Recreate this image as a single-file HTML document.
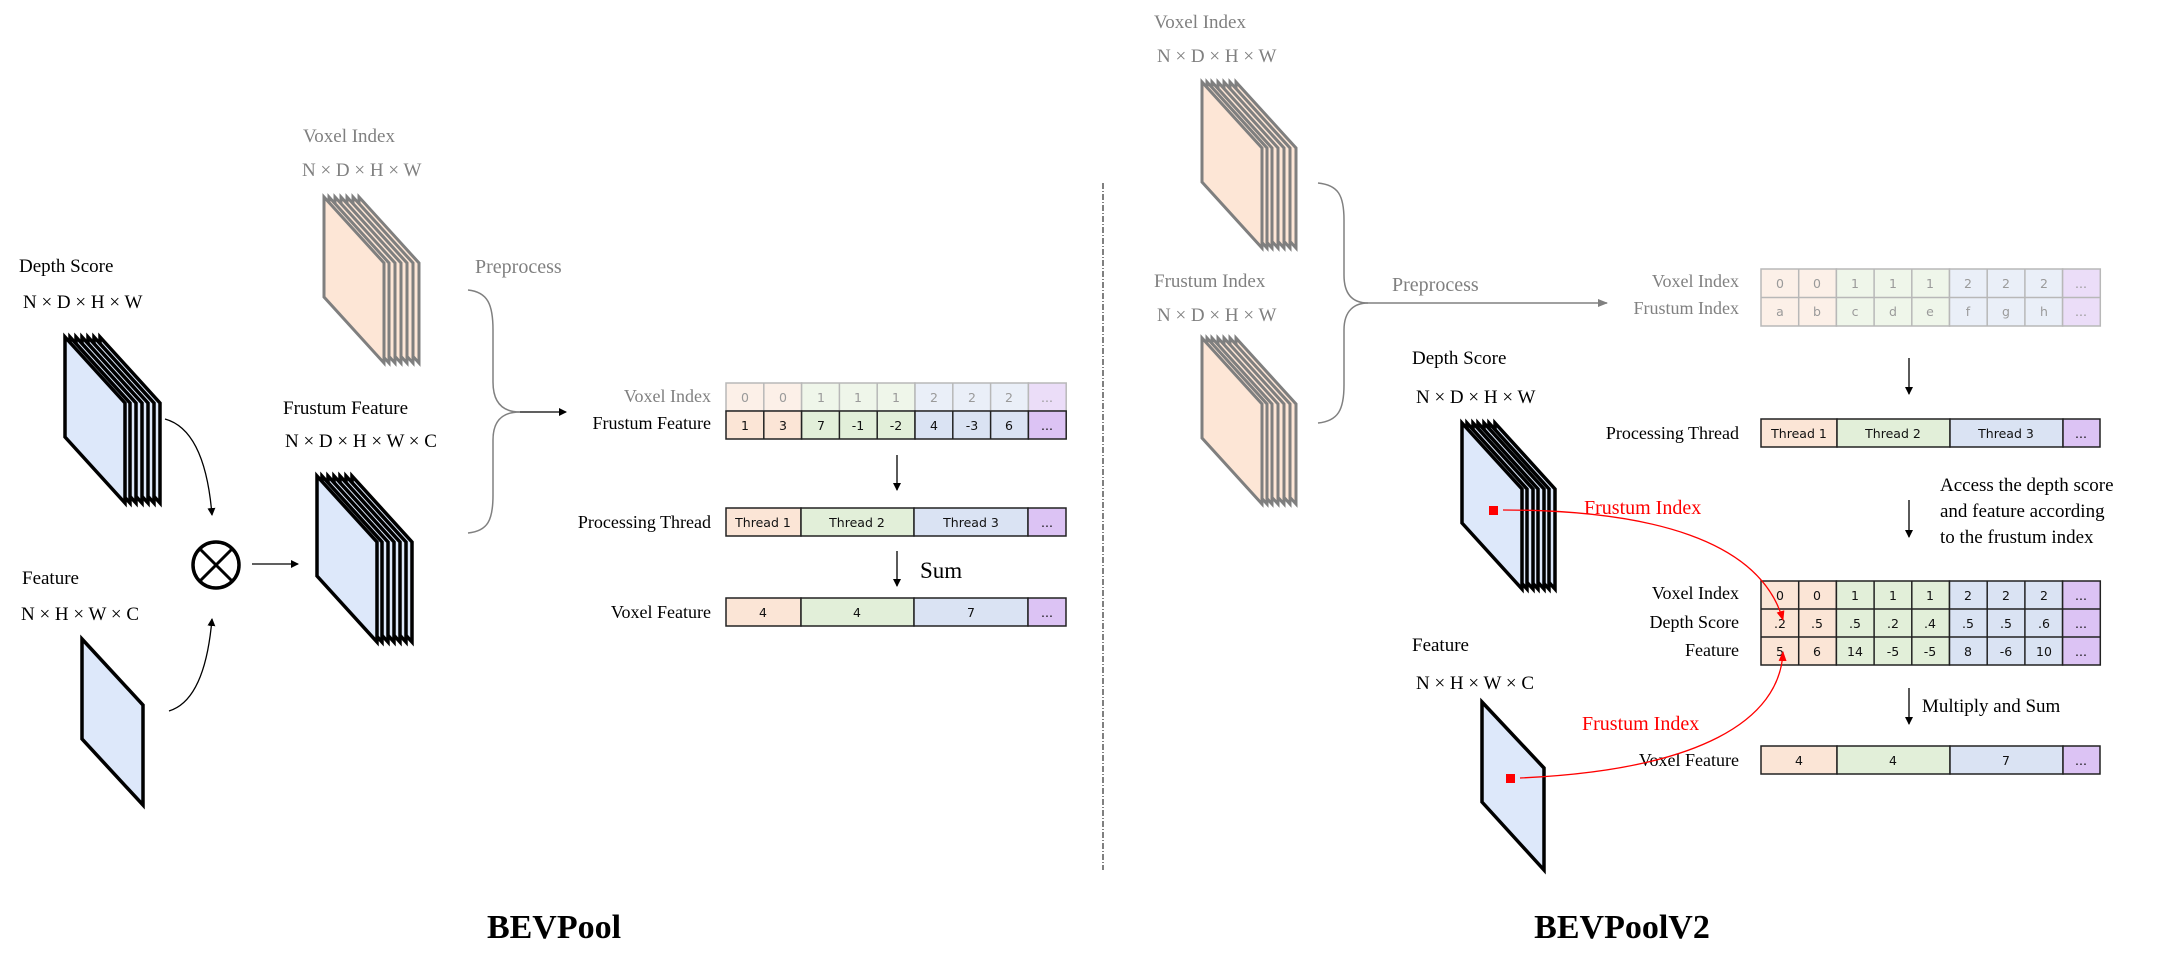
<!DOCTYPE html>
<html><head><meta charset="utf-8"><style>
html,body{margin:0;padding:0;background:#fff;}
svg{display:block;}
.s{font-family:"Liberation Serif",serif;}
.c{font-family:"DejaVu Sans","Liberation Sans",sans-serif;font-size:12.5px;text-anchor:middle;}
</style></head><body>
<svg width="2161" height="963" viewBox="0 0 2161 963" xmlns="http://www.w3.org/2000/svg">
<defs>
<polygon id="P" points="0,0 60,66 60,166 0,100"/>
<marker id="ah" markerWidth="8" markerHeight="8" refX="7" refY="4" orient="auto" markerUnits="userSpaceOnUse"><path d="M0,0 L8,4 L0,8z" fill="#000"/></marker>
<marker id="ahg" markerWidth="10" markerHeight="8" refX="9" refY="4" orient="auto" markerUnits="userSpaceOnUse"><path d="M0,0 L10,4 L0,8z" fill="#808080"/></marker>
<marker id="ahr" markerWidth="10" markerHeight="8" refX="9" refY="4" orient="auto" markerUnits="userSpaceOnUse"><path d="M0,0 L10,4 L0,8z" fill="#f00"/></marker>
</defs>

<!-- ================= LEFT: BEVPool ================= -->
<g class="s" font-family="Liberation Serif, serif" font-size="19">
<text x="303" y="142" fill="#808080">Voxel Index</text>
<text x="302" y="176" fill="#808080">N × D × H × W</text>
<text x="19" y="272">Depth Score</text>
<text x="23" y="308">N × D × H × W</text>
<text x="22" y="584">Feature</text>
<text x="21" y="620">N × H × W × C</text>
<text x="283" y="414">Frustum Feature</text>
<text x="285" y="447">N × D × H × W × C</text>
<text x="475" y="273" fill="#808080" font-size="20">Preprocess</text>
</g>

<g fill="#fde6d6" stroke="#7f7f7f" stroke-width="3" stroke-linejoin="miter">
<use href="#P" x="359" y="197"/><use href="#P" x="353" y="197"/><use href="#P" x="347" y="197"/><use href="#P" x="341" y="197"/><use href="#P" x="335" y="197"/><use href="#P" x="329" y="197"/><use href="#P" x="324" y="197"/>
</g>
<g fill="#dde8fa" stroke="#000" stroke-width="3.5">
<use href="#P" x="100" y="337"/><use href="#P" x="94" y="337"/><use href="#P" x="88" y="337"/><use href="#P" x="82" y="337"/><use href="#P" x="76" y="337"/><use href="#P" x="70" y="337"/><use href="#P" x="65" y="337"/>
</g>
<polygon points="82,639 143,705 143,805 82,739" fill="#dde8fa" stroke="#000" stroke-width="3.5"/>
<g fill="#dde8fa" stroke="#000" stroke-width="3.5">
<use href="#P" x="352" y="476"/><use href="#P" x="346" y="476"/><use href="#P" x="340" y="476"/><use href="#P" x="334" y="476"/><use href="#P" x="328" y="476"/><use href="#P" x="322" y="476"/><use href="#P" x="317" y="476"/>
</g>
<circle cx="216" cy="565" r="23" fill="#fff" stroke="#000" stroke-width="3.5"/>
<line x1="200" y1="549" x2="232" y2="581" stroke="#000" stroke-width="3"/>
<line x1="232" y1="549" x2="200" y2="581" stroke="#000" stroke-width="3"/>
<g fill="none" stroke="#000" stroke-width="1.3">
<path d="M165,419 Q205,430 212,515" marker-end="url(#ah)"/>
<path d="M169,711 Q205,700 212,619" marker-end="url(#ah)"/>
<line x1="252" y1="564" x2="298" y2="564" marker-end="url(#ah)"/>
<line x1="897" y1="455" x2="897" y2="490" marker-end="url(#ah)"/>
<line x1="897" y1="551" x2="897" y2="586" marker-end="url(#ah)"/>
</g>
<g fill="none" stroke="#808080" stroke-width="1.5">
<path d="M468,290 C488,292 493,305 493,330 L493,382 C493,405 505,412 520,412"/>
<path d="M468,533 C488,531 493,520 493,495 L493,440 C493,418 505,412 520,412"/>
<line x1="520" y1="412" x2="566" y2="412" stroke="#000" stroke-width="1.3" marker-end="url(#ah)"/>
</g>

<g class="s" font-family="Liberation Serif, serif" font-size="18" text-anchor="end">
<text x="711" y="402" fill="#808080">Voxel Index</text>
<text x="711" y="429">Frustum Feature</text>
<text x="711" y="528">Processing Thread</text>
<text x="711" y="618">Voxel Feature</text>
</g>
<g stroke="#7f7f7f" stroke-width="1.5" opacity="0.55">
<rect x="726" y="383" width="75.6" height="28" fill="#fbe5d6"/>
<rect x="801.6" y="383" width="113.4" height="28" fill="#e2efd9"/>
<rect x="915" y="383" width="113.4" height="28" fill="#dae3f3"/>
<rect x="1028.4" y="383" width="37.8" height="28" fill="#dcc3f4"/>
<path d="M763.8,383v28M839.4,383v28M877.2,383v28M952.8,383v28M990.6,383v28"/>
</g>
<g class="c" fill="#9a9a9a">
<text x="745" y="402">0</text><text x="783" y="402">0</text><text x="821" y="402">1</text><text x="858" y="402">1</text><text x="896" y="402">1</text><text x="934" y="402">2</text><text x="972" y="402">2</text><text x="1009" y="402">2</text><text x="1047" y="402">...</text>
</g>
<g stroke="#222" stroke-width="1.5">
<rect x="726" y="411" width="75.6" height="28" fill="#fbe5d6"/>
<rect x="801.6" y="411" width="113.4" height="28" fill="#e2efd9"/>
<rect x="915" y="411" width="113.4" height="28" fill="#dae3f3"/>
<rect x="1028.4" y="411" width="37.8" height="28" fill="#dcc3f4"/>
<path d="M763.8,411v28M839.4,411v28M877.2,411v28M952.8,411v28M990.6,411v28" fill="none"/>
<rect x="726" y="508" width="75" height="28" fill="#fbe5d6"/>
<rect x="801" y="508" width="113" height="28" fill="#e2efd9"/>
<rect x="914" y="508" width="114" height="28" fill="#dae3f3"/>
<rect x="1028" y="508" width="38" height="28" fill="#dcc3f4"/>
<rect x="726" y="598" width="75" height="28" fill="#fbe5d6"/>
<rect x="801" y="598" width="113" height="28" fill="#e2efd9"/>
<rect x="914" y="598" width="114" height="28" fill="#dae3f3"/>
<rect x="1028" y="598" width="38" height="28" fill="#dcc3f4"/>
</g>
<g class="c" fill="#111">
<text x="745" y="430">1</text><text x="783" y="430">3</text><text x="821" y="430">7</text><text x="858" y="430">-1</text><text x="896" y="430">-2</text><text x="934" y="430">4</text><text x="972" y="430">-3</text><text x="1009" y="430">6</text><text x="1047" y="430">...</text>
<text x="763" y="527">Thread 1</text><text x="857" y="527">Thread 2</text><text x="971" y="527">Thread 3</text><text x="1047" y="527">...</text>
<text x="763" y="617">4</text><text x="857" y="617">4</text><text x="971" y="617">7</text><text x="1047" y="617">...</text>
</g>
<text x="920" y="578" class="s" font-family="Liberation Serif, serif" font-size="23">Sum</text>

<line x1="1103" y1="183" x2="1103" y2="870" stroke="#000" stroke-width="1" stroke-dasharray="6,2,1,2"/>

<text x="554" y="938" class="s" font-family="Liberation Serif, serif" font-size="34" font-weight="bold" text-anchor="middle">BEVPool</text>
<text x="1622" y="938" class="s" font-family="Liberation Serif, serif" font-size="34" font-weight="bold" text-anchor="middle">BEVPoolV2</text>

<!-- ================= RIGHT: BEVPoolV2 ================= -->
<g class="s" font-family="Liberation Serif, serif" font-size="19">
<text x="1154" y="28" fill="#808080">Voxel Index</text>
<text x="1157" y="62" fill="#808080">N × D × H × W</text>
<text x="1154" y="287" fill="#808080">Frustum Index</text>
<text x="1157" y="321" fill="#808080">N × D × H × W</text>
<text x="1392" y="291" fill="#808080" font-size="20">Preprocess</text>
<text x="1412" y="364">Depth Score</text>
<text x="1416" y="403">N × D × H × W</text>
<text x="1412" y="651">Feature</text>
<text x="1416" y="689">N × H × W × C</text>
<text x="1584" y="514" fill="#f00" font-size="20">Frustum Index</text>
<text x="1582" y="730" fill="#f00" font-size="20">Frustum Index</text>
<text x="1940" y="491">Access the depth score</text>
<text x="1940" y="517">and feature according</text>
<text x="1940" y="543">to the frustum index</text>
<text x="1922" y="712">Multiply and Sum</text>
</g>
<g fill="#fde6d6" stroke="#7f7f7f" stroke-width="3">
<use href="#P" x="1236" y="82"/><use href="#P" x="1230" y="82"/><use href="#P" x="1224" y="82"/><use href="#P" x="1218" y="82"/><use href="#P" x="1212" y="82"/><use href="#P" x="1207" y="82"/><use href="#P" x="1202" y="82"/>
<use href="#P" x="1236" y="338"/><use href="#P" x="1230" y="338"/><use href="#P" x="1224" y="338"/><use href="#P" x="1218" y="338"/><use href="#P" x="1212" y="338"/><use href="#P" x="1207" y="338"/><use href="#P" x="1202" y="338"/>
</g>
<g fill="none" stroke="#808080" stroke-width="1.5">
<path d="M1318,183 C1338,185 1344,195 1344,220 L1344,275 C1344,297 1355,303 1368,303"/>
<path d="M1318,423 C1338,421 1344,410 1344,385 L1344,330 C1344,310 1355,303 1368,303"/>
<line x1="1368" y1="303" x2="1607" y2="303" marker-end="url(#ahg)"/>
</g>
<g fill="#dde8fa" stroke="#000" stroke-width="3.5">
<use href="#P" x="1495" y="423"/><use href="#P" x="1489" y="423"/><use href="#P" x="1484" y="423"/><use href="#P" x="1478" y="423"/><use href="#P" x="1473" y="423"/><use href="#P" x="1467" y="423"/><use href="#P" x="1462" y="423"/>
</g>
<polygon points="1482,702 1544,768 1544,870 1482,802" fill="#dde8fa" stroke="#000" stroke-width="3.5"/>
<g fill="none" stroke="#000" stroke-width="1.3">
<line x1="1909" y1="358" x2="1909" y2="394" marker-end="url(#ah)"/>
<line x1="1909" y1="500" x2="1909" y2="537" marker-end="url(#ah)"/>
<line x1="1909" y1="688" x2="1909" y2="724" marker-end="url(#ah)"/>
</g>

<g class="s" font-family="Liberation Serif, serif" font-size="18" text-anchor="end">
<text x="1739" y="287" fill="#808080">Voxel Index</text>
<text x="1739" y="314" fill="#808080">Frustum Index</text>
<text x="1739" y="439">Processing Thread</text>
<text x="1739" y="599">Voxel Index</text>
<text x="1739" y="628">Depth Score</text>
<text x="1739" y="656">Feature</text>
<text x="1739" y="766">Voxel Feature</text>
</g>
<g stroke="#7f7f7f" stroke-width="1.5" opacity="0.55">
<rect x="1761" y="269" width="75.4" height="57" fill="#fbe5d6"/>
<rect x="1836.4" y="269" width="113.1" height="57" fill="#e2efd9"/>
<rect x="1949.5" y="269" width="113.1" height="57" fill="#dae3f3"/>
<rect x="2062.6" y="269" width="37.7" height="57" fill="#dcc3f4"/>
<path d="M1761,297.5h339.3M1798.7,269v57M1874.1,269v57M1911.8,269v57M1987.2,269v57M2024.9,269v57" fill="none"/>
</g>
<g class="c" fill="#9a9a9a">
<text x="1780" y="288">0</text><text x="1817" y="288">0</text><text x="1855" y="288">1</text><text x="1893" y="288">1</text><text x="1930" y="288">1</text><text x="1968" y="288">2</text><text x="2006" y="288">2</text><text x="2044" y="288">2</text><text x="2081" y="288">...</text>
<text x="1780" y="316">a</text><text x="1817" y="316">b</text><text x="1855" y="316">c</text><text x="1893" y="316">d</text><text x="1930" y="316">e</text><text x="1968" y="316">f</text><text x="2006" y="316">g</text><text x="2044" y="316">h</text><text x="2081" y="316">...</text>
</g>
<g stroke="#222" stroke-width="1.5">
<rect x="1761" y="419" width="76" height="28" fill="#fbe5d6"/>
<rect x="1837" y="419" width="113" height="28" fill="#e2efd9"/>
<rect x="1950" y="419" width="113" height="28" fill="#dae3f3"/>
<rect x="2063" y="419" width="37" height="28" fill="#dcc3f4"/>
<rect x="1761" y="581" width="75.4" height="84" fill="#fbe5d6"/>
<rect x="1836.4" y="581" width="113.1" height="84" fill="#e2efd9"/>
<rect x="1949.5" y="581" width="113.1" height="84" fill="#dae3f3"/>
<rect x="2062.6" y="581" width="37.7" height="84" fill="#dcc3f4"/>
<path d="M1761,609h339.3M1761,637h339.3M1798.7,581v84M1874.1,581v84M1911.8,581v84M1987.2,581v84M2024.9,581v84" fill="none"/>
<rect x="1761" y="746" width="76" height="28" fill="#fbe5d6"/>
<rect x="1837" y="746" width="113" height="28" fill="#e2efd9"/>
<rect x="1950" y="746" width="113" height="28" fill="#dae3f3"/>
<rect x="2063" y="746" width="37" height="28" fill="#dcc3f4"/>
</g>
<g class="c" fill="#111">
<text x="1799" y="438">Thread 1</text><text x="1893" y="438">Thread 2</text><text x="2006" y="438">Thread 3</text><text x="2081" y="438">...</text>
<text x="1780" y="600">0</text><text x="1817" y="600">0</text><text x="1855" y="600">1</text><text x="1893" y="600">1</text><text x="1930" y="600">1</text><text x="1968" y="600">2</text><text x="2006" y="600">2</text><text x="2044" y="600">2</text><text x="2081" y="600">...</text>
<text x="1780" y="628">.2</text><text x="1817" y="628">.5</text><text x="1855" y="628">.5</text><text x="1893" y="628">.2</text><text x="1930" y="628">.4</text><text x="1968" y="628">.5</text><text x="2006" y="628">.5</text><text x="2044" y="628">.6</text><text x="2081" y="628">...</text>
<text x="1780" y="656">5</text><text x="1817" y="656">6</text><text x="1855" y="656">14</text><text x="1893" y="656">-5</text><text x="1930" y="656">-5</text><text x="1968" y="656">8</text><text x="2006" y="656">-6</text><text x="2044" y="656">10</text><text x="2081" y="656">...</text>
<text x="1799" y="765">4</text><text x="1893" y="765">4</text><text x="2006" y="765">7</text><text x="2081" y="765">...</text>
</g>

<!-- red curves on top -->
<rect x="1489" y="506" width="9" height="9" fill="#f00"/>
<rect x="1506" y="774" width="9" height="9" fill="#f00"/>
<g fill="none" stroke="#f00" stroke-width="1.3">
<path d="M1503,510 C1650,510 1760,540 1783,620" marker-end="url(#ahr)"/>
<path d="M1520,778 C1700,770 1780,720 1783,652" marker-end="url(#ahr)"/>
</g>
</svg>
</body></html>
